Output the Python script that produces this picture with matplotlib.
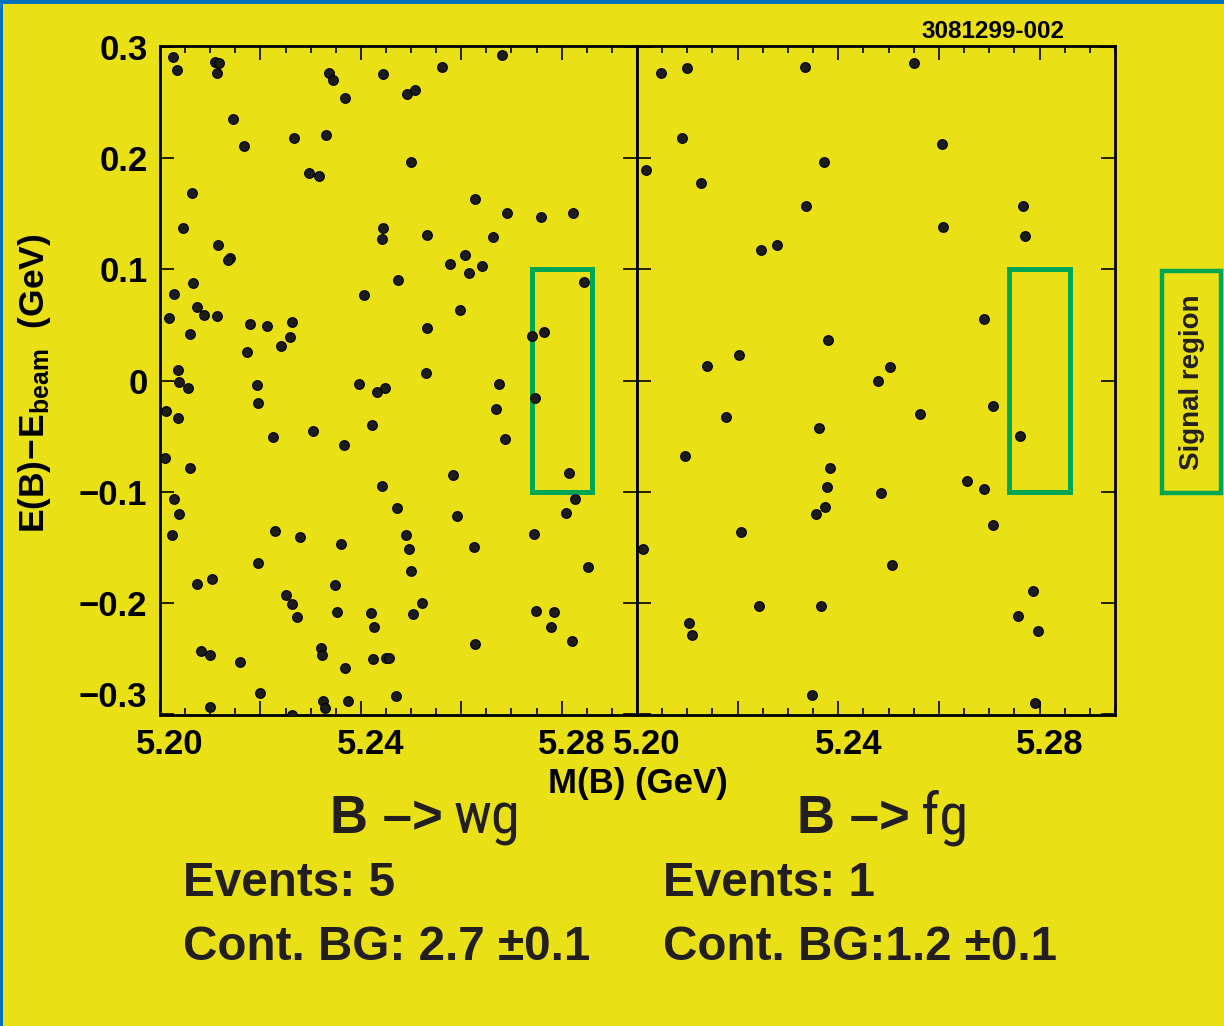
import matplotlib
matplotlib.use("Agg")
import matplotlib.pyplot as plt
from matplotlib.patches import Rectangle
from matplotlib.ticker import MultipleLocator, FixedLocator, FixedFormatter
import matplotlib.transforms as mtransforms
import logging
logging.getLogger('matplotlib.font_manager').setLevel(logging.ERROR)

plt.rcParams['font.family'] = ['Liberation Sans', 'DejaVu Sans']
plt.rcParams['mathtext.fontset'] = 'custom'
plt.rcParams['mathtext.bf'] = 'Liberation Sans:bold'
plt.rcParams['mathtext.rm'] = 'Liberation Sans'

# ---------------- data ----------------
left_mass = [5.2025, 5.2034, 5.2110, 5.2117, 5.2113, 5.2336, 5.2345, 5.2445, 5.2368, 5.2146,
             5.2167, 5.2267, 5.2330, 5.2296, 5.2317, 5.2063, 5.2045, 5.2115, 5.2140, 5.2136,
             5.2445, 5.2443, 5.2474, 5.2065, 5.2028, 5.2406, 5.2073, 5.2087, 5.2113, 5.2017,
             5.2179, 5.2213, 5.2263, 5.2259, 5.2241, 5.2059, 5.2173, 5.2035, 5.2037, 5.2396,
             5.2562, 5.2681, 5.2492, 5.2507, 5.2499, 5.2628, 5.2692, 5.2759, 5.2822, 5.2531,
             5.2664, 5.2608, 5.2578, 5.2615, 5.2642, 5.2844, 5.2597, 5.2531, 5.2741, 5.2765,
             5.2529,
             5.2056, 5.2194, 5.2195, 5.2433, 5.2448, 5.2012, 5.2036, 5.2226, 5.2305, 5.2367,
             5.2423, 5.2009, 5.2059, 5.2442, 5.2472, 5.2028, 5.2038, 5.2024, 5.2229, 5.2279,
             5.2361, 5.2195, 5.2074, 5.2103, 5.2251, 5.2262, 5.2272, 5.2348, 5.2353, 5.2420,
             5.2427, 5.2081, 5.2100, 5.2159, 5.2321, 5.2323, 5.2369, 5.2425, 5.2450, 5.2456,
             5.2470, 5.2199, 5.2325, 5.2329, 5.2375, 5.2099, 5.2262,
             5.2675, 5.2669, 5.2687, 5.2746, 5.2814, 5.2584, 5.2591, 5.2826, 5.2808, 5.2490,
             5.2496, 5.2625, 5.2744, 5.2500, 5.2853, 5.2522, 5.2504, 5.2748, 5.2785, 5.2778,
             5.2820, 5.2627]
left_de = [0.291, 0.279, 0.287, 0.286, 0.277, 0.277, 0.270, 0.276, 0.254, 0.235,
           0.211, 0.218, 0.221, 0.187, 0.184, 0.169, 0.137, 0.122, 0.110, 0.108,
           0.137, 0.127, 0.090, 0.088, 0.078, 0.077, 0.066, 0.059, 0.058, 0.056,
           0.051, 0.049, 0.053, 0.039, 0.031, 0.042, 0.026, 0.009, -0.001, -0.003,
           0.282, 0.293, 0.258, 0.261, 0.197, 0.163, 0.151, 0.147, 0.151, 0.131,
           0.129, 0.113, 0.105, 0.097, 0.103, 0.089, 0.063, 0.047, 0.040, 0.044,
           0.007,
           -0.007, -0.004, -0.020, -0.010, -0.007, -0.027, -0.034, -0.051, -0.045, -0.058,
           -0.040, -0.070, -0.079, -0.095, -0.115, -0.107, -0.120, -0.139, -0.135, -0.141,
           -0.147, -0.164, -0.183, -0.179, -0.193, -0.201, -0.213, -0.184, -0.208, -0.209,
           -0.222, -0.243, -0.247, -0.253, -0.241, -0.247, -0.259, -0.251, -0.250, -0.250,
           -0.284, -0.281, -0.288, -0.295, -0.288, -0.294, -0.301,
           -0.003, -0.026, -0.053, -0.016, -0.083, -0.085, -0.122, -0.107, -0.119, -0.139,
           -0.152, -0.150, -0.138, -0.171, -0.168, -0.200, -0.210, -0.207, -0.208, -0.222,
           -0.234, -0.237]

right_mass = [5.2048, 5.2100, 5.2334, 5.2089, 5.2018, 5.2127, 5.2372, 5.2336, 5.2246, 5.2278,
              5.2379, 5.2202, 5.2140, 5.2551, 5.2607, 5.2768, 5.2609, 5.2771, 5.2689, 5.2502,
              5.2478, 5.2176, 5.2362, 5.2095, 5.2384, 5.2378, 5.2374, 5.2356, 5.2206, 5.2012,
              5.2243, 5.2365, 5.2104, 5.2109, 5.2348, 5.2707, 5.2562, 5.2762, 5.2656, 5.2690,
              5.2485, 5.2708, 5.2507, 5.2787, 5.2757, 5.2796, 5.2791]
right_de = [0.277, 0.281, 0.282, 0.218, 0.189, 0.178, 0.197, 0.157, 0.117, 0.122,
            0.036, 0.023, 0.013, 0.286, 0.213, 0.157, 0.138, 0.130, 0.055, 0.012,
            0.000, -0.033, -0.043, -0.068, -0.079, -0.096, -0.114, -0.120, -0.136, -0.152,
            -0.203, -0.203, -0.218, -0.229, -0.283, -0.023, -0.030, -0.050, -0.090, -0.098,
            -0.101, -0.130, -0.166, -0.189, -0.212, -0.225, -0.290]

signal_mass = (5.274, 5.286)
signal_de = (-0.1, 0.1)

x_major = [5.20, 5.22, 5.24, 5.26, 5.28]
x_labels = ["5.20", "", "5.24", "", "5.28"]
y_major = [-0.3, -0.2, -0.1, 0.0, 0.1, 0.2, 0.3]
y_labels = ["\u22120.3", "\u22120.2", "\u22120.1", "0", "0.1", "0.2", "0.3"]

decay_left = ("B \u2013>", "wg")
decay_right = ("B \u2013>", "fg")
events_left = ["Events: 5", "Cont. BG: 2.7 \u00b10.1"]
events_right = ["Events: 1", "Cont. BG:1.2 \u00b10.1"]

# ---------------- style ----------------
YELLOW = '#EAE016'
GREEN = '#00A651'
BLUE = '#0072BC'
DARK = '#231F20'
NARROW = ['Liberation Sans Narrow', 'DejaVu Sans Condensed', 'Roboto Condensed',
          'Liberation Sans', 'DejaVu Sans']

W, H = 1224, 1026
fig = plt.figure(figsize=(W / 100, H / 100), dpi=100, facecolor=YELLOW)

ax1 = fig.add_axes([160 / W, 1 - 715 / H, 477 / W, 669 / H])
ax2 = fig.add_axes([637 / W, 1 - 715 / H, 478 / W, 669 / H])

for ax, xm, yd in ((ax1, left_mass, left_de), (ax2, right_mass, right_de)):
    ax.set_facecolor(YELLOW)
    ax.plot(xm, yd, 'o', ms=7.0, mfc='#1c1c1c', mec='black', mew=0.8, zorder=3)
    ax.add_patch(Rectangle((signal_mass[0], signal_de[0]),
                           signal_mass[1] - signal_mass[0], signal_de[1] - signal_de[0],
                           fill=False, ec=GREEN, lw=3.6, zorder=2))
    ax.set_xlim(5.20, 5.295)
    ax.set_ylim(-0.301, 0.301)
    for s in ax.spines.values():
        s.set_linewidth(2.0)
        s.set_color('black')
    ax.xaxis.set_major_locator(FixedLocator(x_major))
    ax.xaxis.set_major_formatter(FixedFormatter(x_labels))
    ax.xaxis.set_minor_locator(MultipleLocator(0.005))
    ax.yaxis.set_major_locator(FixedLocator(y_major))
    ax.yaxis.set_major_formatter(FixedFormatter(y_labels))
    ax.tick_params(axis='both', which='major', direction='in', top=True, right=True,
                   length=10, width=1.2, labelsize=25, pad=9)
    ax.tick_params(axis='x', which='minor', direction='in', top=True, bottom=True,
                   length=5, width=1.2)
    for lab in ax.get_xticklabels() + ax.get_yticklabels():
        lab.set_fontweight('bold')
    offset = mtransforms.ScaledTranslation(10 / 100, 0, fig.dpi_scale_trans)
    for lab in ax.get_xticklabels():
        lab.set_transform(lab.get_transform() + offset)

ax2.tick_params(axis='y', labelleft=False)
ax1.get_yticklabels()[0].set_verticalalignment('bottom')

# axis labels
fig.text(35 / W, 1 - 383 / H, r"$\mathbf{E(B)\!-\!E_{beam}}$  $\mathbf{(GeV)}$",
         rotation=90, ha='center', va='center', fontsize=25.5, color='black')
fig.text(638 / W, 1 - 783 / H, "M(B) (GeV)", ha='center', va='center',
         fontsize=25, fontweight='bold', color='black')
fig.text(993 / W, 1 - 32 / H, "3081299-002", ha='center', va='center',
         fontsize=17.5, fontweight='bold', color='black')

# decay labels
base_y = 1 - 833 / H
fig.text(330 / W, base_y, decay_left[0], ha='left', va='baseline',
         fontsize=38, fontweight='bold', color=DARK)
fig.text(454 / W, base_y, decay_left[1], ha='left', va='baseline',
         fontsize=42, fontweight='normal', color=DARK, family=NARROW)
fig.text(797 / W, base_y, decay_right[0], ha='left', va='baseline',
         fontsize=38, fontweight='bold', color=DARK)
fig.text(921 / W, base_y, decay_right[1], ha='left', va='baseline',
         fontsize=42, fontweight='normal', color=DARK, family=NARROW)

for x0, lines in ((183, events_left), (663, events_right)):
    fig.text(x0 / W, 1 - 896 / H, lines[0], ha='left', va='baseline',
             fontsize=34.3, fontweight='bold', color=DARK)
    fig.text(x0 / W, 1 - 960 / H, lines[1], ha='left', va='baseline',
             fontsize=34.3, fontweight='bold', color=DARK)

# Signal region legend box
fig.add_artist(Rectangle((1162 / W, 1 - 493 / H), 59 / W, 222 / H,
                         transform=fig.transFigure, fill=False, ec=GREEN, lw=3.2))
fig.text(1192 / W, 1 - 382 / H, "Signal region", rotation=90, ha='center', va='center',
         fontsize=20, fontweight='bold', color=DARK)

# blue border (top and left)
fig.add_artist(Rectangle((0, 1 - 4 / H), 1, 4 / H, transform=fig.transFigure,
                         color=BLUE, lw=0))
fig.add_artist(Rectangle((0, 0), 2.5 / W, 1, transform=fig.transFigure,
                         color=BLUE, lw=0))

fig.savefig("out.png", dpi=100, facecolor=YELLOW)
